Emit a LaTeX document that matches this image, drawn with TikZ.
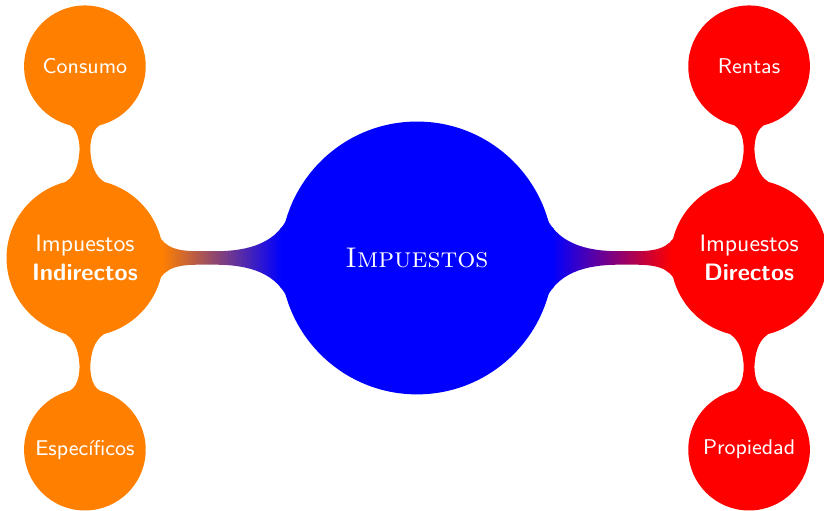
\documentclass[tikz,border=0pt]{standalone}
\usepackage{tikz}
\usetikzlibrary{mindmap}
\tikzset{
  rootc/.style={concept, minimum size=4cm, text width=3.6cm, align=center,
    concept color=blue, text=white, font=\large},
  mainc/.style={concept, minimum size=2.28cm, text width=2cm, align=center,
    text=white, font=\sffamily},
  leafc/.style={concept, minimum size=1.76cm, text width=1.6cm, align=center,
    text=white, font=\sffamily\small},
}
\begin{document}
\begin{tikzpicture}[mindmap]
  \useasboundingbox (-6.178,-3.748) rectangle (6.030,3.822);
  % root and main branches
  \node[rootc] (imp) at (0,0) {\textsc{Impuestos}};
  \node[mainc, concept color=orange] (ind) at (-4.92,0) {Impuestos\\\textbf{Indirectos}};
  \node[mainc, concept color=red] (dir) at (4.92,0) {Impuestos\\\textbf{Directos}};
  % leaves
  \node[leafc, concept color=orange] (cons) at (-4.92,2.84) {Consumo};
  \node[leafc, concept color=orange] (espe) at (-4.92,-2.84) {Espec\'ificos};
  \node[leafc, concept color=red] (rent) at (4.92,2.84) {Rentas};
  \node[leafc, concept color=red] (prop) at (4.92,-2.84) {Propiedad};
  % connections
  \path (imp) to[circle connection bar switch color=from (blue) to (orange)] (ind);
  \path (imp) to[circle connection bar switch color=from (blue) to (red)] (dir);
  \path (ind) to[circle connection bar switch color=from (orange) to (orange)] (cons);
  \path (ind) to[circle connection bar switch color=from (orange) to (orange)] (espe);
  \path (dir) to[circle connection bar switch color=from (red) to (red)] (rent);
  \path (dir) to[circle connection bar switch color=from (red) to (red)] (prop);
\end{tikzpicture}
\end{document}
